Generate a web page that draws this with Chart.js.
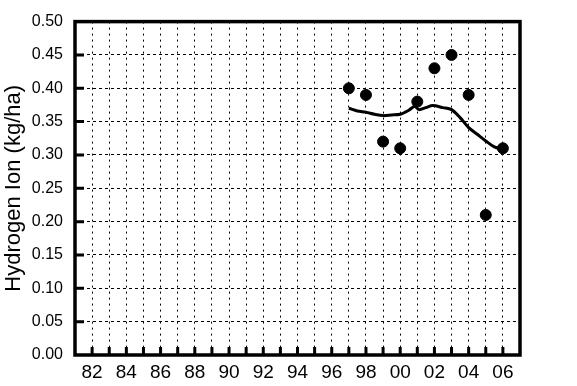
<!DOCTYPE html>
<html>
<head>
<meta charset="utf-8">
<script src="https://cdn.jsdelivr.net/npm/chart.js@4/dist/chart.umd.min.js"></script>
<style>
  html, body { margin: 0; padding: 0; background: #fff; overflow: hidden; }
  #wrap { width: 577px; height: 386px; }
</style>
</head>
<body>
<div id="wrap"><canvas id="c" width="577" height="386"></canvas></div>
<script>
// ---- data ----
const pointYears = [1997, 1998, 1999, 2000, 2001, 2002, 2003, 2004, 2005, 2006];
const hydrogenIon = [0.40, 0.39, 0.32, 0.31, 0.38, 0.43, 0.45, 0.39, 0.21, 0.31];
const trendYears = [1997, 1997.5, 1998, 1998.5, 1999, 1999.5, 2000, 2000.5, 2000.85, 2001.1, 2001.5, 2001.9, 2002.5, 2003, 2003.5, 2004, 2004.5, 2005, 2005.5, 2006];
const trendValues = [0.370, 0.366, 0.364, 0.361, 0.359, 0.360, 0.361, 0.367, 0.373, 0.368, 0.371, 0.374, 0.371, 0.368, 0.356, 0.341, 0.331, 0.321, 0.312, 0.308];
const yearMin = 1981, yearMax = 2007;
const yMin = 0, yMax = 0.5, yStep = 0.05;
const yTitle = 'Hydrogen Ion (kg/ha)';

const FONT = "'Liberation Sans', Arial, Helvetica, sans-serif";

const framePlugin = {
  id: 'frame',
  afterDraw(chart) {
    const { ctx, chartArea: a } = chart;
    const xs = chart.scales.x, ys = chart.scales.y;
    ctx.save();
    ctx.strokeStyle = '#000';
    // inward tick marks
    ctx.lineWidth = 3;
    ctx.beginPath();
    ys.ticks.forEach(t => {
      if (t.value <= yMin + 1e-9 || t.value >= yMax - 1e-9) return;
      const p = ys.getPixelForValue(t.value);
      ctx.moveTo(a.left, p); ctx.lineTo(a.left + 9, p);
    });
    xs.ticks.forEach(t => {
      if (t.value <= yearMin || t.value >= yearMax) return;
      const p = xs.getPixelForValue(t.value);
      ctx.moveTo(p, a.bottom); ctx.lineTo(p, a.bottom - 8);
    });
    ctx.stroke();
    // frame
    ctx.lineWidth = 3.5;
    ctx.strokeRect(a.left, a.top, a.right - a.left, a.bottom - a.top);
    ctx.restore();
  }
};

new Chart(document.getElementById('c'), {
  type: 'scatter',
  data: {
    datasets: [
      {
        data: trendYears.map((x, i) => ({ x, y: trendValues[i] })),
        showLine: true,
        borderColor: '#000',
        borderWidth: 3,
        pointRadius: 0,
        tension: 0.3,
        fill: false
      },
      {
        data: pointYears.map((x, i) => ({ x, y: hydrogenIon[i] })),
        showLine: false,
        backgroundColor: '#000',
        borderColor: '#000',
        pointRadius: 5.5,
        pointHoverRadius: 5.5
      }
    ]
  },
  options: {
    responsive: false,
    animation: false,
    devicePixelRatio: 1,
    layout: { padding: { top: 14, right: 57, left: 0, bottom: 0 } },
    plugins: { legend: { display: false }, tooltip: { enabled: false } },
    scales: {
      x: {
        type: 'linear',
        min: yearMin, max: yearMax,
        afterFit(s) { s.height = 31; },
        grid: { color: '#000', lineWidth: 1, drawTicks: false },
        border: { display: false, dash: [2, 4] },
        ticks: {
          stepSize: 1, autoSkip: false, maxRotation: 0, padding: 6,
          color: '#000',
          font: { family: FONT, size: 19 },
          callback: v => (v % 2 === 0 ? String(v).slice(2) : '')
        }
      },
      y: {
        min: yMin, max: yMax,
        afterFit(s) { s.width = 75; },
        grid: { color: '#000', lineWidth: 1, drawTicks: false },
        border: { display: false, dash: [3, 3] },
        title: {
          display: true, text: yTitle, color: '#000',
          font: { family: FONT, size: 22 },
          padding: { top: 1, bottom: 0 }
        },
        ticks: {
          stepSize: yStep, padding: 12, color: '#000',
          font: { family: FONT, size: 16 },
          callback: v => Number(v).toFixed(2)
        }
      }
    }
  },
  plugins: [framePlugin]
});
</script>
</body>
</html>
